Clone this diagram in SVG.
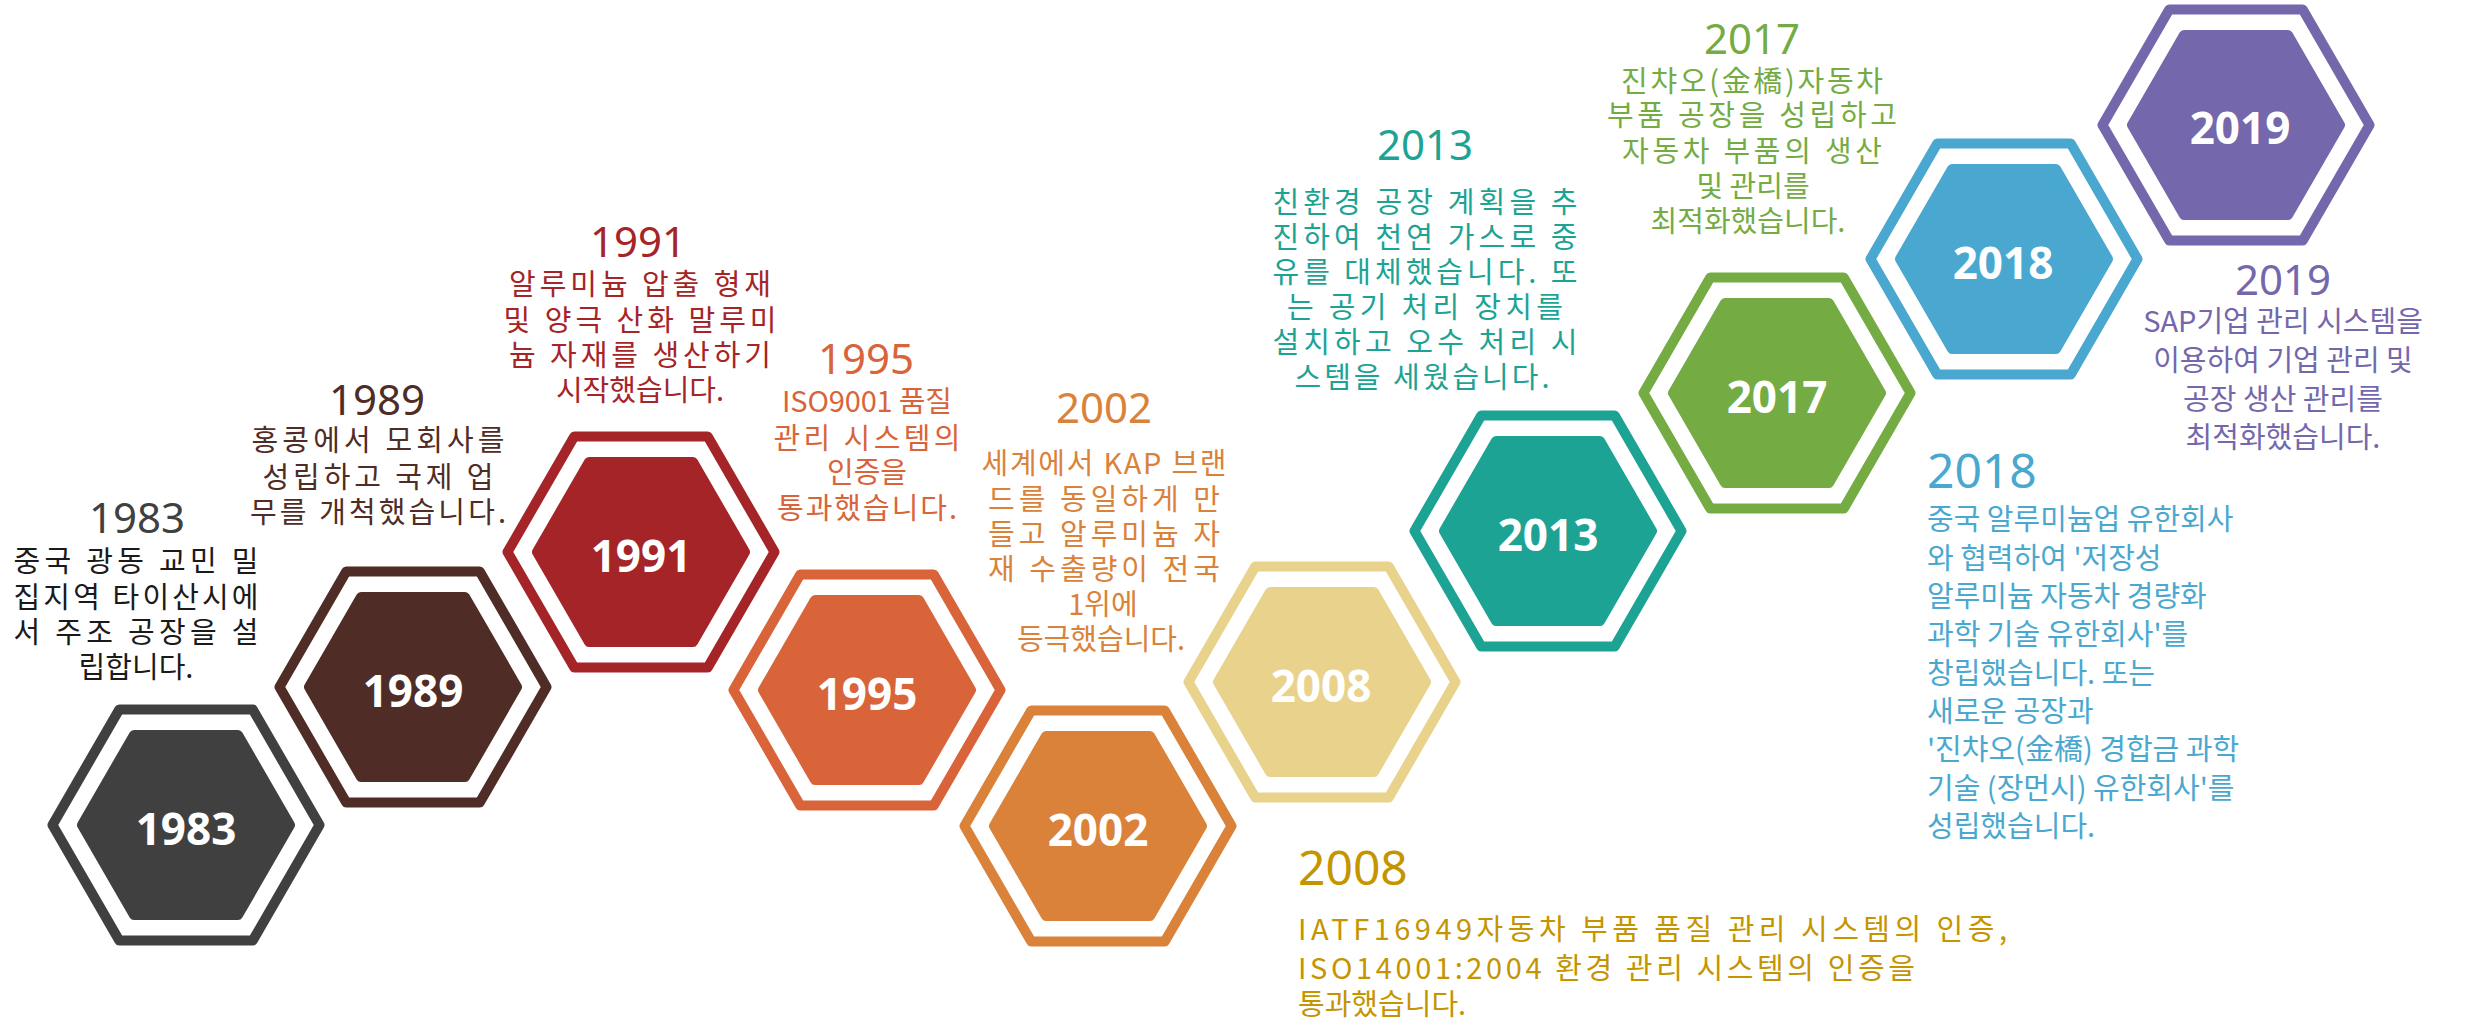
<svg xmlns="http://www.w3.org/2000/svg" xmlns:xlink="http://www.w3.org/1999/xlink" width="2466" height="1021" viewBox="0 0 2466 1021">
<defs>
<polygon id="ring" points="133.5,0 66.75,115.61 -66.75,115.61 -133.5,0 -66.75,-115.61 66.75,-115.61" fill="none" stroke-width="10" stroke-linejoin="round"/>
<polygon id="core" points="104,0 52,90.07 -52,90.07 -104,0 -52,-90.07 52,-90.07" stroke-width="10" stroke-linejoin="round"/>
</defs>
<style>
.num{font-family:'Open Sans','Noto Sans',sans-serif;font-weight:700;font-size:44px;fill:#fff;text-anchor:middle}
.yr{font-family:'Noto Sans','Noto Sans CJK KR',sans-serif;font-size:42px;text-anchor:middle}
.big{font-family:'Noto Sans','Noto Sans CJK KR',sans-serif;font-size:48px}
.b{font-family:'Noto Sans CJK KR','Noto Sans',sans-serif;font-size:29px;text-anchor:middle}
.l{text-anchor:start}
</style>
<rect width="2466" height="1021" fill="#fff"/>
<g id="connectors"/>

<g id="n1983">
<use xlink:href="#ring" transform="translate(186,825)" stroke="#404040"/>
<use xlink:href="#core" transform="translate(186,825)" fill="#404040" stroke="#404040"/>
<text class="num" x="186" y="845">1983</text>
<text class="yr" x="137" y="533" fill="#404040">1983</text>
<g class="b" fill="#1A1A1A">
<text class="b" x="136" y="572" textLength="245" lengthAdjust="spacing">중국 광동 교민 밀</text>
<text class="b" x="136" y="608" textLength="245" lengthAdjust="spacing">집지역 타이산시에</text>
<text class="b" x="136" y="643" textLength="245" lengthAdjust="spacing">서 주조 공장을 설</text>
<text class="b" x="136" y="678">립합니다.</text>
</g>
</g>

<g id="n1989">
<use xlink:href="#ring" transform="translate(413,687)" stroke="#4F2C25"/>
<use xlink:href="#core" transform="translate(413,687)" fill="#4F2C25" stroke="#4F2C25"/>
<text class="num" x="413" y="707">1989</text>
<text class="yr" x="377" y="415" fill="#4F2C25">1989</text>
<g fill="#4F2C25">
<text class="b" x="378" y="451" textLength="253" lengthAdjust="spacing">홍콩에서 모회사를</text>
<text class="b" x="378" y="488" textLength="231" lengthAdjust="spacing">성립하고 국제 업</text>
<text class="b" x="378" y="523" textLength="256" lengthAdjust="spacing">무를 개척했습니다.</text>
</g>
</g>

<g id="n1991">
<use xlink:href="#ring" transform="translate(641,552)" stroke="#A52428"/>
<use xlink:href="#core" transform="translate(641,552)" fill="#A52428" stroke="#A52428"/>
<text class="num" x="641" y="572">1991</text>
<text class="yr" x="638" y="257" fill="#A52428">1991</text>
<g fill="#A52428">
<text class="b" x="640" y="295" textLength="262" lengthAdjust="spacing">알루미늄 압출 형재</text>
<text class="b" x="640" y="331" textLength="273" lengthAdjust="spacing">및 양극 산화 말루미</text>
<text class="b" x="640" y="366" textLength="262" lengthAdjust="spacing">늄 자재를 생산하기</text>
<text class="b" x="640" y="401">시작했습니다.</text>
</g>
</g>

<g id="n1995">
<use xlink:href="#ring" transform="translate(867,690)" stroke="#D9643A"/>
<use xlink:href="#core" transform="translate(867,690)" fill="#D9643A" stroke="#D9643A"/>
<text class="num" x="867" y="710">1995</text>
<text class="yr" x="866" y="374" fill="#D9643A">1995</text>
<g fill="#D9643A">
<text class="b" x="867" y="412" textLength="170" lengthAdjust="spacing">ISO9001 품질</text>
<text class="b" x="867" y="449" textLength="187" lengthAdjust="spacing">관리 시스템의</text>
<text class="b" x="867" y="483">인증을</text>
<text class="b" x="867" y="519" textLength="180" lengthAdjust="spacing">통과했습니다.</text>
</g>
</g>

<g id="n2002">
<use xlink:href="#ring" transform="translate(1098,826)" stroke="#DA8239"/>
<use xlink:href="#core" transform="translate(1098,826)" fill="#DA8239" stroke="#DA8239"/>
<text class="num" x="1098" y="846">2002</text>
<text class="yr" x="1104" y="423" fill="#DA8239">2002</text>
<g fill="#DA8239">
<text class="b" x="1104" y="474" textLength="245" lengthAdjust="spacing">세계에서 KAP 브랜</text>
<text class="b" x="1104" y="510" textLength="232" lengthAdjust="spacing">드를 동일하게 만</text>
<text class="b" x="1104" y="545" textLength="232" lengthAdjust="spacing">들고 알루미늄 자</text>
<text class="b" x="1104" y="580" textLength="232" lengthAdjust="spacing">재 수출량이 전국</text>
<text class="b" x="1103" y="615">1위에</text>
<text class="b" x="1101" y="650">등극했습니다.</text>
</g>
</g>

<g id="n2008">
<use xlink:href="#ring" transform="translate(1322,682)" stroke="#E9D38C"/>
<use xlink:href="#core" transform="translate(1322,682)" fill="#E9D38C" stroke="#E9D38C"/>
<text class="num" x="1321" y="702">2008</text>
<text class="big" x="1298" y="885" fill="#C59500">2008</text>
<g fill="#C59500">
<text class="b l" x="1298" y="940" font-size="30" textLength="709" lengthAdjust="spacing">IATF16949자동차 부품 품질 관리 시스템의 인증,</text>
<text class="b l" x="1298" y="979" font-size="30" textLength="617" lengthAdjust="spacing">ISO14001:2004 환경 관리 시스템의 인증을</text>
<text class="b l" x="1298" y="1015" font-size="30">통과했습니다.</text>
</g>
</g>

<g id="n2013">
<use xlink:href="#ring" transform="translate(1548,531)" stroke="#1DA394"/>
<use xlink:href="#core" transform="translate(1548,531)" fill="#1DA394" stroke="#1DA394"/>
<text class="num" x="1548" y="551">2013</text>
<text class="yr" x="1425" y="160" fill="#1DA394">2013</text>
<g fill="#1DA394">
<text class="b" x="1425" y="213" textLength="305" lengthAdjust="spacing">친환경 공장 계획을 추</text>
<text class="b" x="1425" y="248" textLength="305" lengthAdjust="spacing">진하여 천연 가스로 중</text>
<text class="b" x="1425" y="283" textLength="305" lengthAdjust="spacing">유를 대체했습니다. 또</text>
<text class="b" x="1425" y="318" textLength="276" lengthAdjust="spacing">는 공기 처리 장치를</text>
<text class="b" x="1425" y="353" textLength="305" lengthAdjust="spacing">설치하고 오수 처리 시</text>
<text class="b" x="1422" y="388" textLength="255" lengthAdjust="spacing">스템을 세웠습니다.</text>
</g>
</g>

<g id="n2017">
<use xlink:href="#ring" transform="translate(1777,393)" stroke="#74AC43"/>
<use xlink:href="#core" transform="translate(1777,393)" fill="#74AC43" stroke="#74AC43"/>
<text class="num" x="1777" y="413">2017</text>
<text class="yr" x="1752" y="54" fill="#74AC43">2017</text>
<g fill="#74AC43">
<text class="b" x="1752" y="92" textLength="262" lengthAdjust="spacing">진챠오(金橋)자동차</text>
<text class="b" x="1752" y="126" textLength="290" lengthAdjust="spacing">부품 공장을 성립하고</text>
<text class="b" x="1752" y="162" textLength="260" lengthAdjust="spacing">자동차 부품의 생산</text>
<text class="b" x="1753" y="197">및 관리를</text>
<text class="b" x="1748" y="232">최적화했습니다.</text>
</g>
</g>

<g id="n2018">
<use xlink:href="#ring" transform="translate(2004,259)" stroke="#4AA8D0"/>
<use xlink:href="#core" transform="translate(2004,259)" fill="#4AA8D0" stroke="#4AA8D0"/>
<text class="num" x="2003" y="279">2018</text>
<text class="big" x="1927" y="488" fill="#4AA8D0">2018</text>
<g fill="#4AA8D0">
<text class="b l" x="1927" y="530" font-size="32">중국 알루미늄업 유한회사</text>
<text class="b l" x="1927" y="569" font-size="32">와 협력하여 '저장성</text>
<text class="b l" x="1927" y="607" font-size="32">알루미늄 자동차 경량화</text>
<text class="b l" x="1927" y="645" font-size="32">과학 기술 유한회사'를</text>
<text class="b l" x="1927" y="684" font-size="32">창립했습니다. 또는</text>
<text class="b l" x="1927" y="722" font-size="32">새로운 공장과</text>
<text class="b l" x="1927" y="760" font-size="32">'진챠오(金橋) 경합금 과학</text>
<text class="b l" x="1927" y="799" font-size="32">기술 (장먼시) 유한회사'를</text>
<text class="b l" x="1927" y="837" font-size="32">성립했습니다.</text>
</g>
</g>

<g id="n2019">
<use xlink:href="#ring" transform="translate(2236,125)" stroke="#7467AC"/>
<use xlink:href="#core" transform="translate(2236,125)" fill="#7467AC" stroke="#7467AC"/>
<text class="num" x="2240" y="144">2019</text>
<text class="yr" x="2283" y="295" font-size="33" fill="#7467AC">2019</text>
<g fill="#7467AC">
<text class="b" x="2283" y="332">SAP기업 관리 시스템을</text>
<text class="b" x="2283" y="371">이용하여 기업 관리 및</text>
<text class="b" x="2283" y="410">공장 생산 관리를</text>
<text class="b" x="2283" y="448">최적화했습니다.</text>
</g>
</g>
</svg>
